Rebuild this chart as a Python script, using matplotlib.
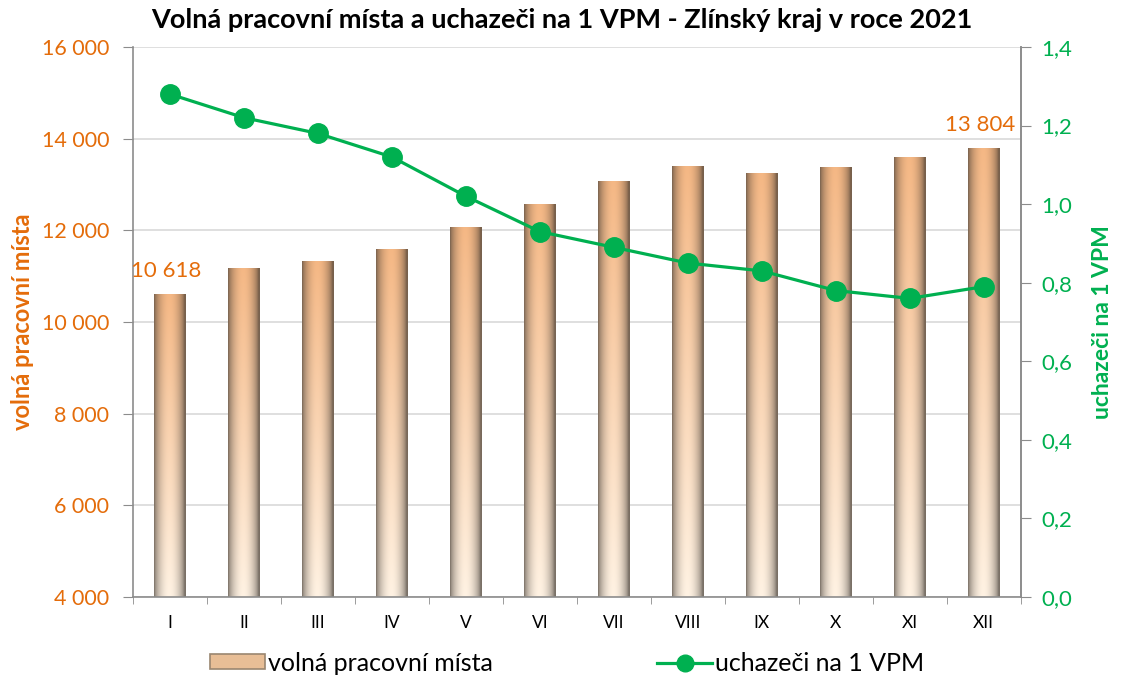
import numpy as np
import matplotlib.pyplot as plt
from matplotlib.patches import Rectangle
from matplotlib.lines import Line2D
from matplotlib.ticker import FuncFormatter, FixedLocator

plt.rcParams['font.family'] = ['Lato', 'DejaVu Sans']

# data
mesice = ['I', 'II', 'III', 'IV', 'V', 'VI', 'VII', 'VIII', 'IX', 'X', 'XI', 'XII']
vpm = [10618, 11180, 11330, 11590, 12070, 12575, 13080, 13400, 13250, 13380, 13600, 13804]
uchazeci_na_vpm = [1.28, 1.22, 1.18, 1.12, 1.02, 0.93, 0.89, 0.85, 0.83, 0.78, 0.76, 0.79]

ORANGE = '#E46C0A'
GREEN = '#00B050'
GRAY = '#8C8C8C'


def bar_gradient():
    # valcovy efekt: tmave okraje, svetly stred, nahore broskvova, dole kremova
    xs = np.linspace(0, 1, 60)
    ys = np.linspace(0, 1, 200)[:, None]
    top = np.array([0.96, 0.72, 0.52])
    bottom = np.array([1.0, 0.95, 0.89])
    base = top * (1 - ys[..., None]) + bottom * ys[..., None]
    shade = 0.50 + 0.50 * np.sin(np.pi * np.clip(xs * 1.05, 0, 1)) ** 0.5
    img = base * shade[None, :, None]
    tint = np.array([0.45, 0.40, 0.35])
    edge = (1 - np.sin(np.pi * xs) ** 0.35)[None, :, None]
    img = img * (1 - 0.5 * edge) + tint * 0.5 * edge
    return np.clip(img, 0, 1)


fig = plt.figure(figsize=(11.23, 6.77), dpi=100)
ax = fig.add_axes([0.1184, 0.1182, 0.7906, 0.8124])
x = np.arange(len(mesice))
width = 0.43

bars = ax.bar(x, vpm, width=width, bottom=0, color='none', edgecolor='none', zorder=2)
grad = bar_gradient()
for b, v in zip(bars, vpm):
    x0 = b.get_x()
    im = ax.imshow(grad, extent=[x0, x0 + width, 4000, v], aspect='auto',
                   origin='upper', zorder=2, interpolation='bilinear')
    im.set_clip_path(b)

ax.set_xlim(-0.5, len(mesice) - 0.5)
ax.set_ylim(4000, 16000)
ax.set_yticks(np.arange(4000, 16001, 2000))
ax.yaxis.set_major_formatter(FuncFormatter(lambda v, p: f'{int(v):,}'.replace(',', ' ')))
ax.tick_params(axis='y', colors=GRAY, labelcolor=ORANGE, labelsize=15.5, length=7, pad=10)
ax.grid(axis='y', color='#D9D9D9', linewidth=1.2, zorder=0)
ax.set_axisbelow(True)

ax.set_xticks(x)
ax.set_xticklabels(mesice, fontsize=12.5)
ax.xaxis.set_minor_locator(FixedLocator(np.arange(-0.5, len(mesice), 1)))
ax.tick_params(axis='x', which='major', length=0, pad=13)
ax.tick_params(axis='x', which='minor', length=5, color=GRAY)

ax.spines['top'].set_visible(False)
for s in ['left', 'bottom', 'right']:
    ax.spines[s].set_color(GRAY)
    ax.spines[s].set_linewidth(1.2)

ax.set_ylabel('volná pracovní místa', color=ORANGE, fontsize=17, fontweight='bold', labelpad=6)

ax.text(x[0] - 0.05, vpm[0] + 280, f'{vpm[0]:,}'.replace(',', ' '), color=ORANGE,
        fontsize=16, ha='center', va='bottom')
ax.text(x[-1] - 0.05, vpm[-1] + 280, f'{vpm[-1]:,}'.replace(',', ' '), color=ORANGE,
        fontsize=16, ha='center', va='bottom')

ax2 = ax.twinx()
ax2.plot(x, uchazeci_na_vpm, color=GREEN, linewidth=2.3, marker='o', markersize=14, zorder=3)
ax2.set_ylim(0, 1.4)
ax2.set_yticks(np.arange(0, 1.41, 0.2))
ax2.yaxis.set_major_formatter(FuncFormatter(lambda v, p: f'{v:.1f}'.replace('.', ',')))
ax2.tick_params(axis='y', colors=GRAY, labelcolor=GREEN, labelsize=16, length=7, pad=8)
ax2.spines['top'].set_visible(False)
ax2.spines['right'].set_color(GRAY)
ax2.spines['right'].set_linewidth(1.2)
ax2.spines['left'].set_visible(False)
ax2.spines['bottom'].set_visible(False)
ax2.set_ylabel('uchazeči na 1 VPM', color=GREEN, fontsize=16.5, fontweight='bold', labelpad=14)

fig.suptitle('Volná pracovní místa a uchazeči na 1 VPM - Zlínský kraj v roce 2021',
             fontsize=19.5, fontweight='bold', x=0.5, y=0.988)

h_bar = Rectangle((0, 0), 1, 1, facecolor='#E8BE96', edgecolor='#9A8670', linewidth=1.2)
h_line = Line2D([], [], color=GREEN, linewidth=2.3, marker='o', markersize=12)
fig.legend([h_bar, h_line], ['volná pracovní místa', 'uchazeči na 1 VPM'],
           loc='lower center', bbox_to_anchor=(0.505, -0.03), ncol=2, frameon=False,
           fontsize=18, columnspacing=6.6, handlelength=2.2, handleheight=0.55,
           handletextpad=0.1)

fig.savefig('out.png', dpi=100)
